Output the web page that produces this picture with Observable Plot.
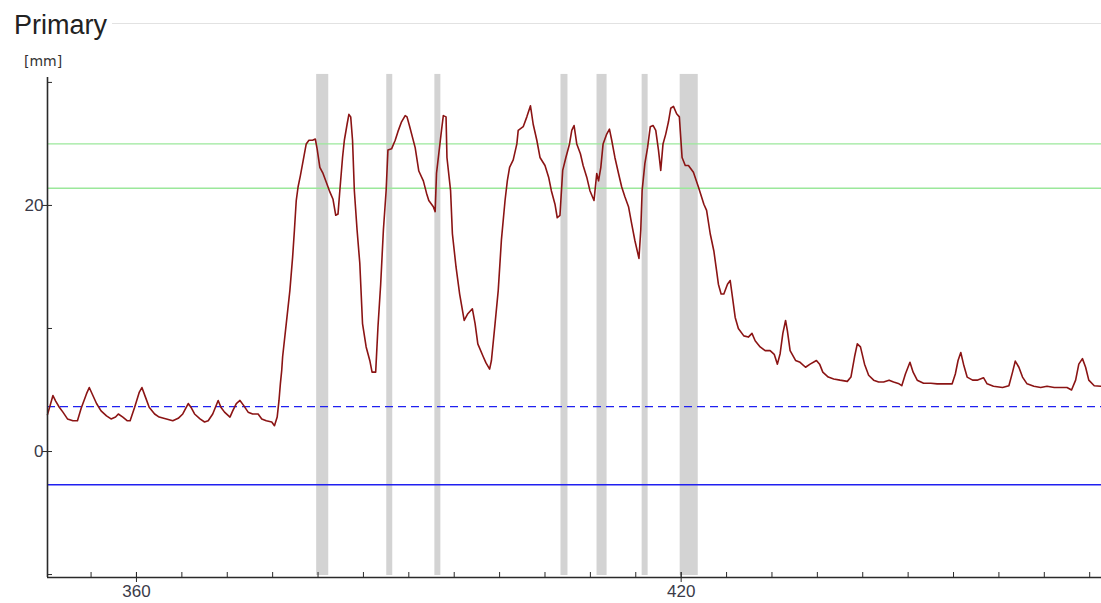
<!DOCTYPE html>
<html>
<head>
<meta charset="utf-8">
<script src="https://cdn.jsdelivr.net/npm/d3@7"></script>
<script src="https://cdn.jsdelivr.net/npm/@observablehq/plot@0.6"></script>
<style>
  html, body { margin: 0; padding: 0; background: #fff; }
  #wrap { position: relative; width: 1101px; height: 603px; overflow: hidden; }
  #title { position: absolute; left: 14px; top: 10px; font: 27px "Liberation Sans", Arial, sans-serif; line-height: 30px; color: #222; background: #fff; padding-right: 4px; z-index: 2; }
  #rule { position: absolute; left: 112px; right: 0; top: 23px; height: 1px; background: #e2e2e2; z-index: 1; }
  #unit { position: absolute; left: 24px; top: 54px; font: 14px "DejaVu Sans", sans-serif; line-height: 14px; color: #333; z-index: 2; }
  #chart { position: absolute; left: 0; top: 0; }
</style>
</head>
<body>
<div id="wrap">
  <div id="title">Primary</div>
  <div id="rule"></div>
  <div id="unit">[mm]</div>
  <div id="chart"></div>
</div>
<script>
// ---- data ----
const xDomain = [350.2, 466.3];
const yDomain = [-10.24, 30.4];

const xMinorTicks = d3.range(355, 466, 5);
const xLabelTicks = [360, 420];
const yMinorTicks = [-10, 10, 30];
const yLabelTicks = [0, 20];

const bandStart = [379.85, 387.57, 392.87, 406.76, 410.73, 415.70, 419.89];
const bandEnd   = [381.18, 388.23, 393.53, 407.53, 411.84, 416.36, 421.88];
const bandTop = 30.65, bandBottom = -10.08;

const greenLimits = [25.0, 21.4];
const blueDashed = [3.65];
const blueSolid = [-2.7];

const trace = [
[350.2,3.0],[350.8,4.55],[351.1,4.1],[351.5,3.6],[351.9,3.2],[352.4,2.65],[353.0,2.5],[353.5,2.5],[353.9,3.5],[354.5,4.7],
[354.8,5.2],[355.2,4.55],[355.6,3.9],[356.1,3.3],[356.7,2.9],[357.2,2.65],[357.7,2.8],[358.0,3.05],[358.5,2.8],[359.0,2.5],
[359.3,2.5],[359.8,3.6],[360.3,4.8],[360.6,5.2],[361.0,4.4],[361.4,3.6],[362.0,3.05],[362.5,2.8],[363.3,2.65],[364.0,2.5],
[364.6,2.7],[365.1,3.05],[365.7,3.9],[366.0,3.6],[366.4,3.05],[367.0,2.65],[367.5,2.4],[367.9,2.5],[368.4,3.05],[369.0,4.15],
[369.3,3.6],[369.7,3.2],[370.3,2.8],[370.6,3.3],[371.0,3.9],[371.4,4.15],[371.8,3.75],[372.3,3.2],[372.8,3.05],[373.4,3.05],
[373.8,2.65],[374.3,2.5],[374.9,2.4],[375.2,2.1],[375.5,2.8],[375.7,4.15],[375.85,5.5],[376.0,6.6],[376.1,7.7],[376.5,10.4],
[376.9,13.1],[377.2,15.8],[377.4,18.0],[377.6,20.4],[377.8,21.5],[378.05,22.4],[378.3,23.4],[378.7,25.0],[379.0,25.3],[379.4,25.3],
[379.7,25.4],[379.9,24.6],[380.2,23.1],[380.55,22.6],[380.9,21.9],[381.3,21.1],[381.65,20.5],[381.95,19.2],[382.2,19.3],[382.4,21.2],
[382.7,23.9],[382.9,25.3],[383.2,26.6],[383.4,27.4],[383.6,27.2],[383.8,25.3],[384.0,21.2],[384.3,18.0],[384.6,15.3],[384.9,10.4],
[385.3,8.5],[385.7,7.4],[385.95,6.45],[386.35,6.45],[386.6,10.1],[386.9,13.6],[387.2,18.0],[387.5,21.2],[387.7,24.5],[388.1,24.6],
[388.5,25.3],[388.8,26.0],[389.2,26.8],[389.6,27.3],[389.8,27.2],[390.1,26.4],[390.7,24.7],[391.1,22.8],[391.6,22.0],[391.95,21.0],
[392.2,20.4],[392.7,19.9],[392.9,19.5],[393.05,22.6],[393.3,24.2],[393.6,26.1],[393.8,27.3],[394.1,27.2],[394.2,23.9],[394.6,21.2],
[394.8,17.7],[395.2,15.0],[395.6,12.8],[396.1,10.65],[396.5,11.2],[397.0,11.6],[397.3,10.4],[397.6,8.75],[398.2,7.7],[398.5,7.2],
[398.9,6.7],[399.1,7.4],[399.5,10.4],[399.85,13.1],[400.2,17.2],[400.6,20.4],[400.85,22.0],[401.1,23.1],[401.5,23.7],[401.9,25.0],
[402.05,26.1],[402.6,26.4],[403.0,27.2],[403.4,28.1],[403.7,26.6],[404.1,25.3],[404.45,23.9],[405.0,23.25],[405.4,22.3],[405.7,21.2],
[406.1,20.1],[406.35,19.0],[406.65,19.2],[406.95,22.85],[407.3,23.9],[407.7,25.0],[407.95,26.1],[408.2,26.5],[408.5,25.0],[408.9,24.2],
[409.2,23.25],[409.6,22.3],[409.95,21.2],[410.4,20.4],[410.7,22.6],[410.9,22.0],[411.15,23.1],[411.4,25.0],[411.8,25.8],[412.1,26.2],
[412.35,25.3],[412.7,23.9],[413.1,22.6],[413.45,21.5],[413.8,20.7],[414.2,19.9],[414.55,18.5],[414.9,17.15],[415.35,15.7],[415.55,18.0],
[415.7,21.2],[416.0,23.4],[416.3,24.7],[416.6,26.4],[416.9,26.5],[417.2,26.1],[417.5,24.5],[417.75,22.85],[418.0,25.0],[418.3,25.8],
[418.6,26.8],[418.85,27.9],[419.15,28.05],[419.5,27.45],[419.8,27.2],[420.1,23.9],[420.45,23.25],[420.8,23.25],[421.35,22.7],[421.9,21.5],
[422.5,20.1],[422.8,19.6],[423.2,17.7],[423.6,16.3],[423.9,14.7],[424.1,13.6],[424.4,12.8],[424.7,12.8],[425.1,13.6],[425.4,13.9],
[425.65,12.55],[425.95,10.9],[426.3,10.0],[426.9,9.4],[427.4,9.3],[427.8,9.6],[428.15,9.0],[428.7,8.5],[429.25,8.2],[429.8,8.2],
[430.25,7.9],[430.6,7.1],[430.9,7.95],[431.2,9.6],[431.5,10.65],[431.7,9.8],[432.0,8.2],[432.6,7.4],[433.1,7.25],[433.7,6.85],
[434.2,7.1],[434.9,7.4],[435.25,7.1],[435.6,6.45],[436.2,6.05],[436.8,5.9],[437.5,5.8],[438.3,5.7],[438.7,6.05],[439.1,7.7],
[439.4,8.75],[439.75,8.5],[440.2,7.1],[440.65,6.2],[441.2,5.8],[441.75,5.65],[442.3,5.65],[442.9,5.8],[443.4,5.65],[444.0,5.5],
[444.3,5.35],[444.7,6.3],[445.2,7.25],[445.55,6.45],[446.0,5.8],[446.7,5.55],[447.5,5.55],[448.2,5.5],[448.9,5.5],[449.85,5.5],
[450.2,6.3],[450.5,7.4],[450.8,8.05],[451.1,7.1],[451.5,6.05],[452.1,5.8],[452.6,5.8],[453.3,6.0],[453.7,5.5],[454.4,5.3],
[455.4,5.2],[456.1,5.35],[456.5,6.45],[456.8,7.35],[457.2,6.85],[457.6,6.05],[458.1,5.5],[458.85,5.3],[459.6,5.2],[460.3,5.3],
[461.1,5.2],[461.8,5.2],[462.5,5.2],[463.0,5.0],[463.45,5.8],[463.8,7.1],[464.2,7.55],[464.55,6.85],[464.9,5.8],[465.5,5.35],
[466.2,5.3]
];

// ---- build ----
const bands = bandStart.map((s, i) => ({x1: s, x2: bandEnd[i]}));
const series = trace.map(([t, v]) => ({t, v}));
const axisColor = "#2a2a2a";
const labelColor = "#3a3a48";

const chart = Plot.plot({
  width: 1101,
  height: 603,
  marginLeft: 47,
  marginRight: 0,
  marginTop: 77,
  marginBottom: 26,
  style: {fontFamily: "'Liberation Sans', Arial, sans-serif", fontSize: "16px", background: "transparent", color: labelColor},
  x: {domain: xDomain, axis: null},
  y: {domain: yDomain, axis: null},
  marks: [
    Plot.rect(bands, {x1: "x1", x2: "x2", y1: bandBottom, y2: bandTop, fill: "#d3d3d3"}),
    Plot.ruleY(greenLimits, {stroke: "#9be89b", strokeWidth: 1.3}),
    Plot.ruleY(blueDashed, {stroke: "#2020f0", strokeWidth: 1.4, strokeDasharray: "8,5"}),
    Plot.ruleY(blueSolid, {stroke: "#2020f0", strokeWidth: 1.4}),
    Plot.line(series, {x: "t", y: "v", stroke: "#8b1414", strokeWidth: 1.6}),
    // axis lines
    Plot.ruleX([xDomain[0]], {y1: yDomain[0], y2: yDomain[1], stroke: axisColor, strokeWidth: 1.6}),
    Plot.ruleY([yDomain[0]], {x1: xDomain[0], x2: xDomain[1], stroke: axisColor, strokeWidth: 1.6}),
    // y ticks
    Plot.axisY({ticks: yMinorTicks, tickSize: 5, dx: 5, tickFormat: () => "", label: null, stroke: axisColor}),
    Plot.axisY({ticks: yLabelTicks, tickSize: 10, dx: 5, tickFormat: () => "", label: null, stroke: axisColor}),
    Plot.axisY({ticks: yLabelTicks, tickSize: 0, tickPadding: 4, fontSize: 17, label: null, fill: labelColor}),
    // x ticks
    Plot.axisX({ticks: xMinorTicks, tickSize: 5, dy: -5, tickFormat: () => "", label: null, stroke: axisColor}),
    Plot.axisX({ticks: xLabelTicks, tickSize: 10, dy: -5, tickFormat: () => "", label: null, stroke: axisColor}),
    Plot.axisX({ticks: xLabelTicks, tickSize: 0, tickPadding: 7, fontSize: 17, label: null, fill: labelColor})
  ]
});
document.getElementById("chart").appendChild(chart);
</script>
</body>
</html>
